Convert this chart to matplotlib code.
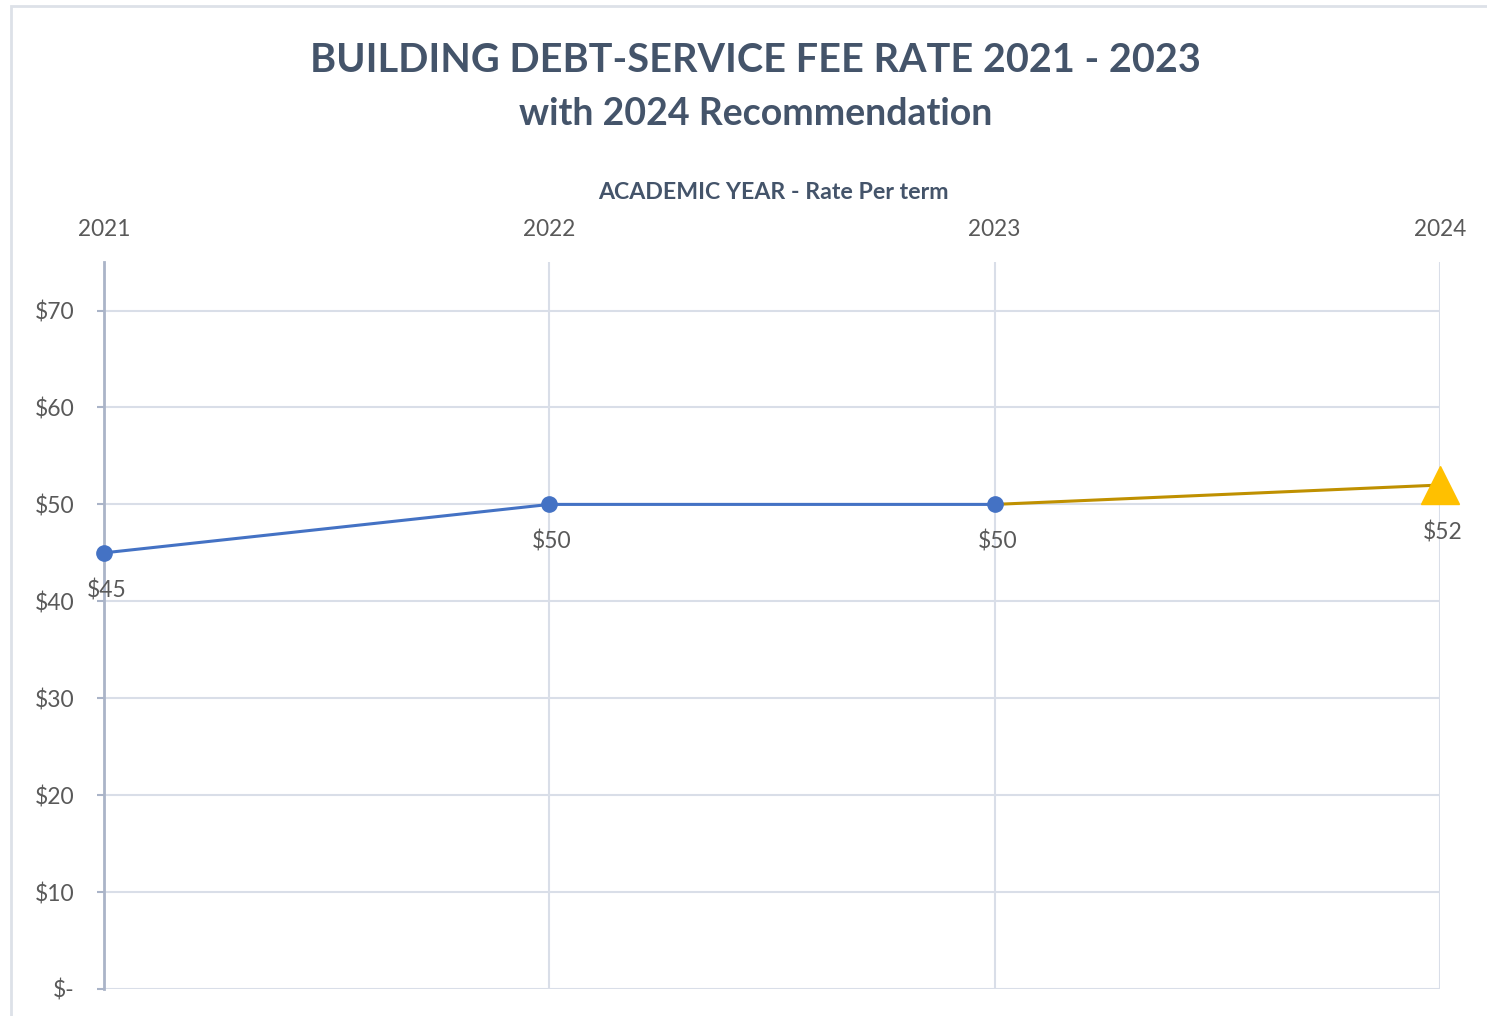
import matplotlib

matplotlib.use("Agg")
import matplotlib.pyplot as plt
from matplotlib.patches import Rectangle

plt.rcParams["font.family"] = ["Lato", "DejaVu Sans"]

# Datos
years = [2021, 2022, 2023, 2024]
actual_years = [2021, 2022, 2023]
actual_rates = [45, 50, 50]
rec_years = [2023, 2024]
rec_rates = [50, 52]
y_ticks = [0, 10, 20, 30, 40, 50, 60, 70]
y_labels = ["$-", "$10", "$20", "$30", "$40", "$50", "$60", "$70"]

TEXT = "#44546a"
TICK = "#595959"
GRID = "#d9dee8"
SPINE = "#aab4c8"

fig = plt.figure(figsize=(14.87, 10.16), dpi=100)
fig.patches.append(Rectangle((0.0074, -0.01), 1.1, 1.004, transform=fig.transFigure,
                             fill=False, edgecolor="#dde1e8", linewidth=2))

ax = fig.add_axes([0.0699, 0.0266, 0.8985, 0.7154])
ax.set_xlim(2021, 2024)
ax.set_ylim(0, 75)

# Serie real (azul) y recomendacion (dorado)
ax.plot(rec_years, rec_rates, color="#bf9000", linewidth=2.2, zorder=3)
ax.plot(actual_years, actual_rates, color="#4472c4", linewidth=2.2, marker="o",
        markersize=11, zorder=4, clip_on=False)
ax.plot(rec_years[-1:], rec_rates[-1:], linestyle="none", marker="^",
        markersize=27, color="#ffc000", zorder=5, clip_on=False)

# Etiquetas de datos
for x, v in zip(actual_years, actual_rates):
    ax.annotate(f"${v}", (x, v), xytext=(2, -27), textcoords="offset points",
                ha="center", va="center", fontsize=16.5, color=TICK)
ax.annotate(f"${rec_rates[-1]}", (rec_years[-1], rec_rates[-1]), xytext=(2, -34),
            textcoords="offset points", ha="center", va="center", fontsize=16.5,
            color=TICK)

# Ejes
ax.set_xticks(years)
ax.set_xticklabels([str(y) for y in years])
ax.xaxis.tick_top()
ax.tick_params(axis="x", length=0, pad=16, labelsize=16.3, labelcolor=TICK)
ax.set_yticks(y_ticks)
ax.set_yticklabels(y_labels)
ax.tick_params(axis="y", length=5, width=1.5, color=SPINE, pad=16, labelsize=16.5,
               labelcolor=TICK)
ax.grid(True, color=GRID, linewidth=1.5)
ax.set_axisbelow(True)
for side in ["top", "right", "bottom"]:
    ax.spines[side].set_visible(False)
ax.spines["left"].set_color(SPINE)
ax.spines["left"].set_linewidth(2)

# Titulos
fig.text(0.508, 0.94, "BUILDING DEBT-SERVICE FEE RATE 2021 - 2023", ha="center",
         va="center", fontsize=28.5, fontweight="bold", color=TEXT)
fig.text(0.508, 0.888, "with 2024 Recommendation", ha="center", va="center",
         fontsize=27, fontweight="bold", color=TEXT)
fig.text(0.52, 0.811, "ACADEMIC YEAR - Rate Per term", ha="center", va="center",
         fontsize=16.7, fontweight="bold", color=TEXT)

fig.savefig("out.png", dpi=100)
